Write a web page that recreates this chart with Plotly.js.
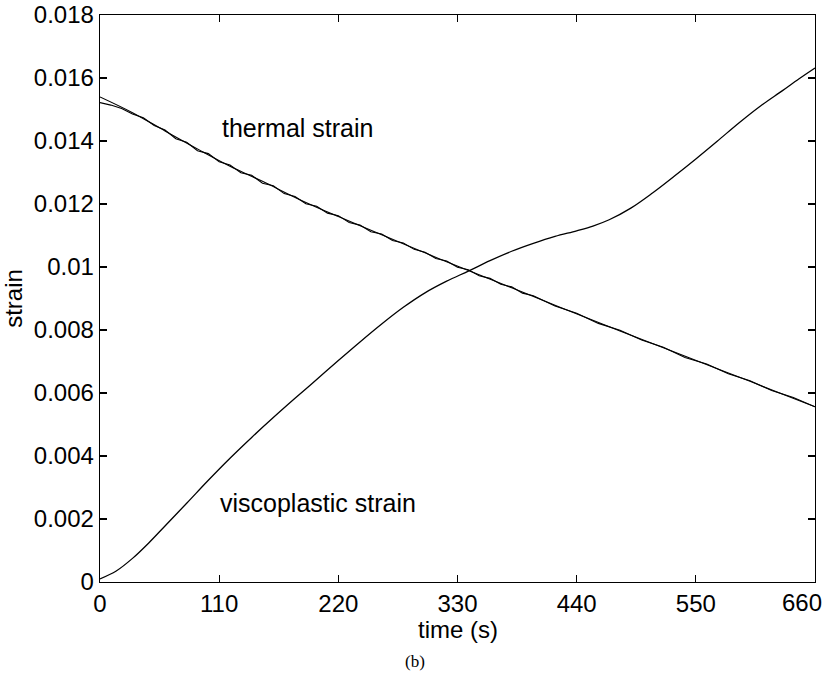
<!DOCTYPE html>
<html>
<head>
<meta charset="utf-8">
<script src="https://cdn.plot.ly/plotly-3.0.1.min.js"></script>
<style>
  html, body { margin: 0; padding: 0; background: #fff; }
  #chart { width: 827px; height: 685px; }
</style>
</head>
<body>
<div id="chart"></div>
<script>
// ---- data ----
const viscoTime = [0, 15, 30, 45, 60, 80, 100, 120, 140, 160, 180, 200, 220, 240, 260, 280, 300, 320, 340, 360, 380, 400, 420, 440, 455, 470, 490, 510, 530, 550, 570, 590, 610, 630, 645, 660];
const viscoStrain = [0.00010, 0.00035, 0.00075, 0.00124, 0.00178, 0.00250, 0.00323, 0.00393, 0.00459, 0.00522, 0.00583, 0.00643, 0.00703, 0.00762, 0.00819, 0.00872, 0.00918, 0.00955, 0.00987, 0.01020, 0.01050, 0.01075, 0.01097, 0.01115, 0.01130, 0.01150, 0.01187, 0.01235, 0.01288, 0.01343, 0.01400, 0.01458, 0.01512, 0.01560, 0.01597, 0.01632];

const thermalModelTime = [0, 30, 60, 92, 120, 150, 185, 220, 265, 300, 332, 380, 424, 480, 542, 600, 660];
const thermalModelStrain = [0.01540, 0.01490, 0.01432, 0.01371, 0.01320, 0.01272, 0.01213, 0.01160, 0.01095, 0.01045, 0.01000, 0.00934, 0.00873, 0.00797, 0.00714, 0.00637, 0.00556];

const thermalMeasTime = [0, 10, 20, 30, 40, 50, 60, 70, 80, 90, 100, 110, 120, 130, 140, 150, 160, 170, 180, 190, 200, 210, 220, 230, 240, 250, 260, 270, 280, 290, 300, 310, 320, 330, 340, 350, 360, 370, 380, 390, 400, 420, 440, 460, 480, 500, 520, 540, 560, 580, 600, 620, 640, 660];
const thermalMeasStrain = [0.01522, 0.01514, 0.01503, 0.01486, 0.01474, 0.01449, 0.01435, 0.01407, 0.01396, 0.01369, 0.01360, 0.01334, 0.01324, 0.01299, 0.01291, 0.01266, 0.01258, 0.01233, 0.01224, 0.01201, 0.01193, 0.01171, 0.01163, 0.01141, 0.01133, 0.01112, 0.01105, 0.01084, 0.01076, 0.01056, 0.01047, 0.01027, 0.01019, 0.00999, 0.00991, 0.00972, 0.00964, 0.00945, 0.00937, 0.00917, 0.00909, 0.00876, 0.00853, 0.00821, 0.00799, 0.00768, 0.00745, 0.00713, 0.00692, 0.00661, 0.00639, 0.00608, 0.00586, 0.00556];

const xTickVals = [0, 110, 220, 330, 440, 550, 660];
const xTickText = ['0', '110', '220', '330', '440', '550', '660'];
const yTickVals = [0, 0.002, 0.004, 0.006, 0.008, 0.01, 0.012, 0.014, 0.016, 0.018];
const yTickText = ['0', '0.002', '0.004', '0.006', '0.008', '0.01', '0.012', '0.014', '0.016', '0.018'];

const labels = [
  {text: 'thermal strain', x: 111, y: 0.0144},
  {text: 'viscoplastic strain', x: 109, y: 0.00251}
];

// ---- chart ----
const FONT = 'Liberation Sans, Arial, Helvetica, sans-serif';

const traces = [
  {x: thermalMeasTime, y: thermalMeasStrain, mode: 'lines', line: {color: '#000', width: 1.1}, hoverinfo: 'skip'},
  {x: thermalModelTime, y: thermalModelStrain, mode: 'lines', line: {color: '#000', width: 1.1, shape: 'spline'}, hoverinfo: 'skip'},
  {x: viscoTime, y: viscoStrain, mode: 'lines', line: {color: '#000', width: 1.3, shape: 'spline', smoothing: 1}, hoverinfo: 'skip'}
];

const axisCommon = {
  showgrid: false, zeroline: false,
  showline: true, linecolor: '#000', linewidth: 1.3, mirror: 'ticks',
  ticks: 'inside', ticklen: 7, tickwidth: 1.2, tickcolor: '#000',
  tickfont: {family: FONT, size: 24, color: '#000'}
};

// the last x tick label is pulled left inside the page, as in the reference
const lastX = xTickText.length - 1;
const xTickTextShown = xTickText.map((t, i) => i === lastX ? '' : t);

const annotations = labels.map(l => ({
  text: l.text, x: l.x, y: l.y, xref: 'x', yref: 'y',
  xanchor: 'left', yanchor: 'middle', showarrow: false,
  font: {family: FONT, size: 25, color: '#000'}
}));
annotations.push({
  text: xTickText[lastX], x: xTickVals[lastX], xref: 'x', y: 0, yref: 'paper',
  xanchor: 'right', yanchor: 'top', xshift: 9, yshift: -5, showarrow: false,
  font: {family: FONT, size: 24, color: '#000'}
});
annotations.push({
  text: 'time (s)', xref: 'paper', yref: 'paper', x: 0.5, y: -0.083, xanchor: 'center', yanchor: 'middle',
  showarrow: false, font: {family: FONT, size: 24, color: '#000'}
});
annotations.push({
  text: '(b)', xref: 'paper', yref: 'paper', x: 0.44, y: -0.14, yanchor: 'middle', xanchor: 'center',
  showarrow: false, font: {family: 'Liberation Serif, Times New Roman, serif', size: 17, color: '#000'}
});

const layout = {
  width: 827, height: 685,
  margin: {l: 100, r: 12, t: 15, b: 103},
  paper_bgcolor: '#fff', plot_bgcolor: '#fff',
  showlegend: false,
  xaxis: Object.assign({}, axisCommon, {
    range: [0, 660], tickvals: xTickVals, ticktext: xTickTextShown
  }),
  yaxis: Object.assign({}, axisCommon, {
    range: [0, 0.018], tickvals: yTickVals, ticktext: yTickText,
    title: {text: 'strain', font: {family: FONT, size: 24, color: '#000'}, standoff: 6}
  }),
  annotations: annotations
};

Plotly.newPlot('chart', traces, layout, {staticPlot: true, displayModeBar: false});
</script>
</body>
</html>
